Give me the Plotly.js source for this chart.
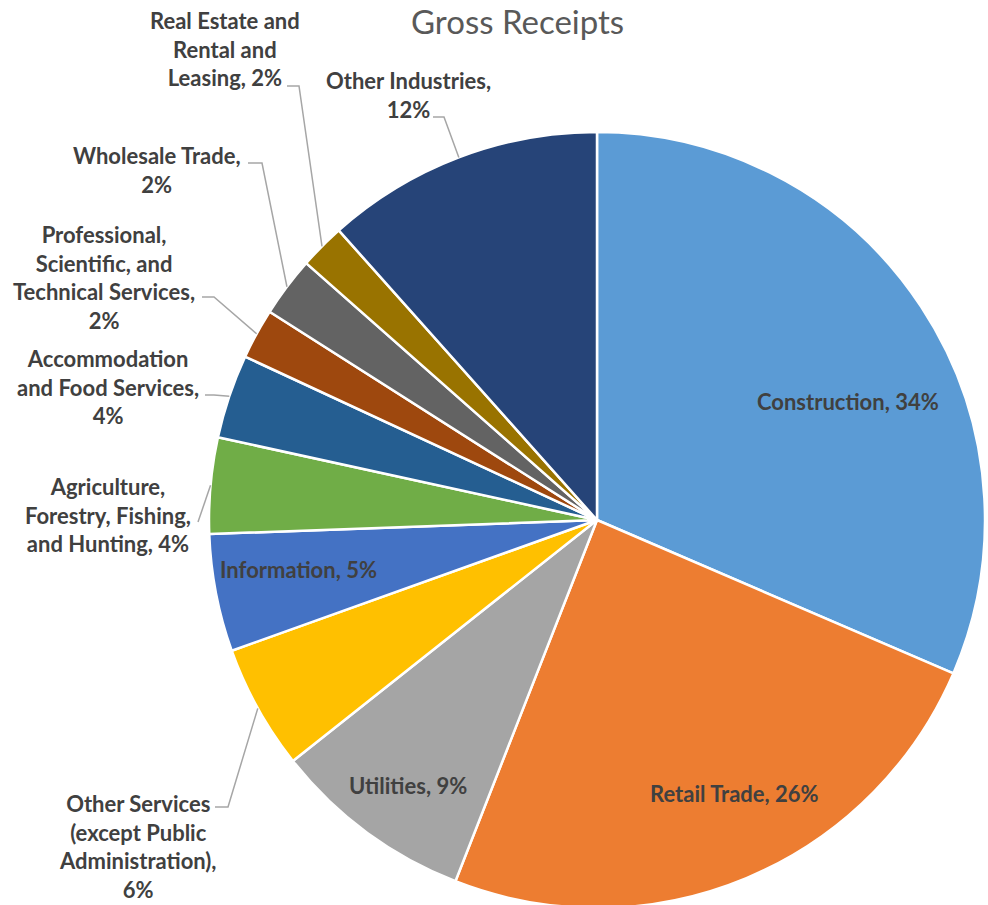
<!DOCTYPE html>
<html>
<head>
<meta charset="utf-8">
<script src="https://cdn.plot.ly/plotly-3.0.1.min.js"></script>
<style>html,body{margin:0;padding:0;overflow:hidden;background:#fff;}</style>
</head>
<body>
<div id="chart" style="width:988px;height:908px;"></div>
<script>
// ---- data ----
const industries = ["Construction", "Retail Trade", "Utilities",
  "Other Services (except Public Administration)", "Information",
  "Agriculture, Forestry, Fishing, and Hunting", "Accommodation and Food Services",
  "Professional, Scientific, and Technical Services", "Wholesale Trade",
  "Real Estate and Rental and Leasing", "Other Industries"];
const shares = [31.5, 24.5, 8.4, 5.2, 4.9, 4.0, 3.5, 2.1, 2.5, 1.9, 11.6];
const pctLabels = ["34%", "26%", "9%", "6%", "5%", "4%", "4%", "2%", "2%", "2%", "12%"];
const labelLines = ["Construction, ", "Retail Trade, ", "Utilities, ",
  "Other Services<br>(except Public<br>Administration),<br>", "Information, ",
  "Agriculture,<br>Forestry, Fishing,<br>and Hunting, ", "Accommodation<br>and Food Services,<br>",
  "Professional,<br>Scientific, and<br>Technical Services,<br>", "Wholesale Trade,<br>",
  "Real Estate and<br>Rental and<br>Leasing, ", "Other Industries,<br>"];
const colors = ["#5B9BD5", "#ED7D31", "#A5A5A5", "#FFC000", "#4472C4", "#70AD47",
  "#255E91", "#9E480E", "#636363", "#997300", "#264478"];

// ---- layout helpers (pixels) ----
const W = 988, H = 908;
const R = 388, CX = 597, CY = 520;
const dom = {x: [(CX - R) / W, (CX + R) / W], y: [0, (2 * R) / H]};
const px = x => x / W, py = y => 1 - y / H;

// label centers (pixel), and leader-line label-side points
const labelPos = [[848, 401], [734, 793], [408, 785], [138, 846], [298, 569],
  [108, 515], [108, 387], [104, 277], [157, 170], [225, 49], [408, 95]];
const leaders = {
  3: [[215, 807], [228, 807]],
  5: [[198, 522]],
  6: [[205, 395], [214, 395]],
  7: [[202, 297], [214, 297]],
  8: [[248, 163], [262, 163]],
  9: [[287, 86], [299, 86]],
  10: [[433, 117], [444, 117]]
};

const total = shares.reduce((a, b) => a + b, 0);
let acc = 0;
const mids = shares.map(v => { const m = (acc + v / 2) / total * 2 * Math.PI; acc += v; return m; });

const annotations = [];
const shapes = [];
industries.forEach((name, i) => {
  annotations.push({
    xref: 'paper', yref: 'paper', x: px(labelPos[i][0]), y: py(labelPos[i][1]),
    xanchor: 'center', yanchor: 'middle', align: 'center', showarrow: false,
    text: '<b>' + labelLines[i] + pctLabels[i] + '</b>',
    font: {family: 'Lato, sans-serif', size: 22, color: '#404040'}
  });
  if (leaders[i]) {
    const pts = leaders[i].slice();
    pts.push([CX + R * Math.sin(mids[i]), CY - R * Math.cos(mids[i])]);
    const path = pts.map((p, k) => (k ? 'L ' : 'M ') + px(p[0]) + ' ' + py(p[1])).join(' ');
    shapes.push({type: 'path', xref: 'paper', yref: 'paper', path: path,
      line: {color: '#A6A6A6', width: 1.5}});
  }
});
annotations.push({
  xref: 'paper', yref: 'paper', x: px(517), y: 1, xanchor: 'center', yanchor: 'top',
  borderpad: 0, showarrow: false, text: 'Gross Receipts',
  font: {family: 'Lato, sans-serif', size: 33, color: '#595959'}
});

const trace = {
  type: 'pie', labels: industries, values: shares, sort: false,
  direction: 'clockwise', rotation: 0, textinfo: 'none', hoverinfo: 'label+percent',
  marker: {colors: colors, line: {color: '#FFFFFF', width: 2.5}},
  domain: dom, showlegend: false
};

Plotly.newPlot('chart', [trace], {
  width: W, height: H, margin: {l: 0, r: 0, t: 0, b: 0},
  paper_bgcolor: '#FFFFFF', showlegend: false,
  annotations: annotations, shapes: shapes
}, {staticPlot: true});
</script>
</body>
</html>
